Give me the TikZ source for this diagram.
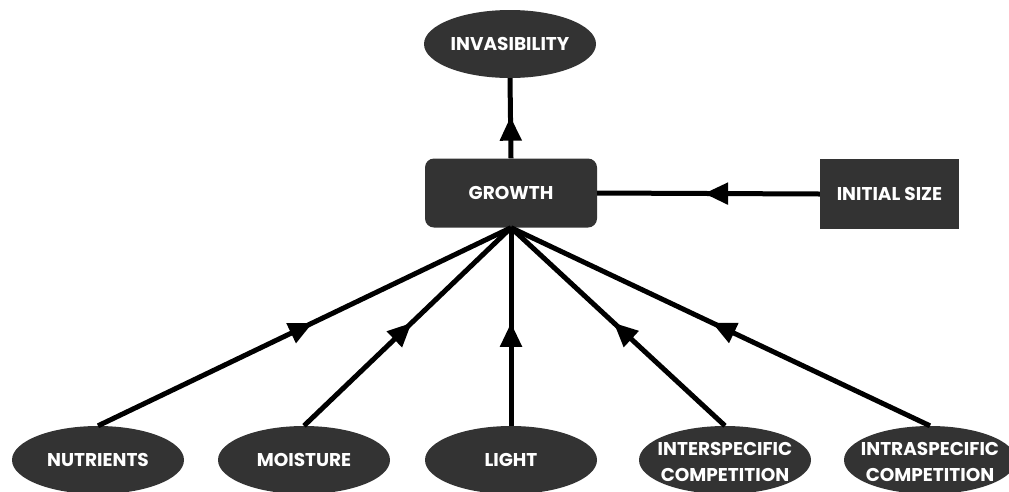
\documentclass[tikz,border=0pt]{standalone}
\usepackage{fontspec}
\setmainfont{Poppins}
\usetikzlibrary{shapes.geometric,arrows.meta,decorations.markings}
\definecolor{nodefill}{HTML}{333333}
\newcommand\twoline[2]{\makebox[0pt]{\raisebox{-8pt}[0pt][0pt]{\fontsize{18.5}{26}\selectfont\begin{tabular}{@{}c@{}}#1\\#2\end{tabular}}}}
\tikzset{
  lbl/.style={text=white, font=\bfseries\fontsize{18.5}{19}\selectfont},
  oval/.style={lbl, ellipse, fill=nodefill, inner sep=0pt, minimum width=172pt, minimum height=68pt, align=center},
  rbox/.style={lbl, rectangle, rounded corners=9pt, fill=nodefill, minimum width=172pt, minimum height=69pt},
  sbox/.style={lbl, rectangle, fill=nodefill, minimum width=139pt, minimum height=70pt},
  link/.style={line width=5pt, postaction={decorate}, decoration={markings, mark=at position 0.52 with {\arrow{Triangle[length=24pt,width=21pt]}}}}
}
\begin{document}
\begin{tikzpicture}[x=1pt,y=-1pt]
\useasboundingbox (0,0) rectangle (1009,491);
\node[oval] (inv) at (510,44) {INVASIBILITY};
\node[rbox] (gro) at (511,193) {GROWTH};
\node[sbox] (ini) at (889.5,194) {INITIAL SIZE};
\node[oval] (nut) at (98,460) {NUTRIENTS};
\node[oval] (moi) at (304,460) {MOISTURE};
\node[oval] (lig) at (511,460) {LIGHT};
\node[oval] (inter) at (725,460) {\twoline{INTERSPECIFIC}{COMPETITION}};
\node[oval] (intra) at (930,460) {\twoline{INTRASPECIFIC}{COMPETITION}};
\draw[link] (gro.north) -- (inv.south);
\draw[link] (ini.west) -- (gro.east);
\draw[link] (nut.north) -- (gro.south);
\draw[link] (moi.north) -- (gro.south);
\draw[link] (lig.north) -- (gro.south);
\draw[link] (inter.north) -- (gro.south);
\draw[link] (intra.north) -- (gro.south);
\end{tikzpicture}
\end{document}
